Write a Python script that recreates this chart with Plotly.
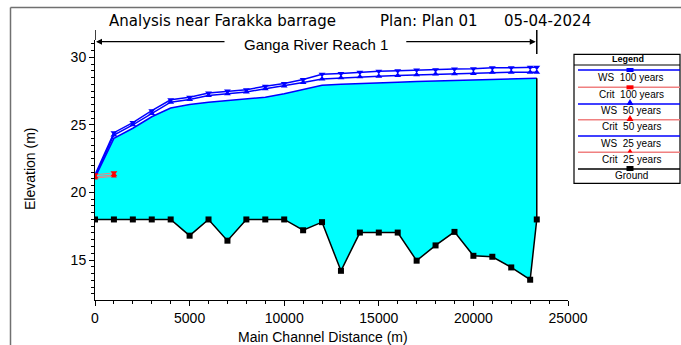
import plotly.graph_objects as go

# ---------------- data ----------------
stations = [0, 1000, 2000, 3000, 4000, 5000, 6000, 7000, 8000, 9000, 10000,
            11000, 12000, 13000, 14000, 15000, 16000, 17000, 18000, 19000,
            20000, 21000, 22000, 23000, 23350]
ground = [18.0, 18.0, 18.0, 18.0, 18.0, 16.8, 18.0, 16.43, 18.0, 18.0, 18.0,
          17.2, 17.8, 14.2, 17.03, 17.03, 17.03, 14.95, 16.08, 17.08,
          15.31, 15.24, 14.45, 13.54, 18.0]
ws_100 = [21.3, 24.42, 25.17, 26.05, 26.86, 27.05, 27.35, 27.5, 27.6, 27.86, 28.06,
          28.36, 28.74, 28.8, 28.9, 28.96, 29.0, 29.06, 29.08, 29.13,
          29.16, 29.23, 29.23, 29.26, 29.26]
ws_50 = [21.2, 24.25, 25.0, 25.85, 26.68, 26.88, 27.18, 27.3, 27.43, 27.68, 27.88,
         28.13, 28.4, 28.48, 28.56, 28.6, 28.66, 28.7, 28.76, 28.78,
         28.81, 28.89, 28.89, 28.9, 28.9]
ws_25 = [21.1, 24.0, 24.75, 25.6, 26.25, 26.5, 26.68, 26.8, 26.9, 27.05, 27.3,
         27.6, 27.93, 28.0, 28.07, 28.12, 28.16, 28.2, 28.24, 28.28,
         28.32, 28.36, 28.4, 28.45, 28.45]
crit_stations = [0, 1000]
crit_100 = [21.3, 21.45]
crit_50 = [21.15, 21.3]
crit_25 = [21.05, 21.2]

x_ticks = [0, 5000, 10000, 15000, 20000, 25000]
y_ticks = [15, 20, 25, 30]

title_parts = ["Analysis near Farakka barrage", "Plan: Plan 01", "05-04-2024"]
reach_name = "Ganga River Reach 1"
legend_labels = ["WS  100 years", "Crit  100 years", "WS  50 years", "Crit  50 years",
                 "WS  25 years", "Crit  25 years", "Ground"]

# ---------------- layout helpers (pixel -> paper) ----------------
W, H = 681, 345
L, R, T, B = 95, 568, 40, 300
def px(x): return (x - L) / (R - L)
def py(y): return (B - y) / (B - T)

FONT = "Arial, Liberation Sans, sans-serif"
TFONT = "DejaVu Sans, Arial, sans-serif"
BLUE = "#0000ff"
RED = "#ff0000"
CRITLINE = "#f08080"

fig = go.Figure()

# fill between ground and lowest water surface
fig.add_trace(go.Scatter(x=stations, y=ground, mode="lines", line=dict(width=0),
                         hoverinfo="skip", showlegend=False))
fig.add_trace(go.Scatter(x=stations, y=ws_25, mode="lines", line=dict(width=0),
                         fill="tonexty", fillcolor="#00ffff", hoverinfo="skip",
                         showlegend=False))

# water surfaces
fig.add_trace(go.Scatter(x=stations, y=ws_25, mode="lines",
                         line=dict(color=BLUE, width=1.5), name="WS 25 years"))
fig.add_trace(go.Scatter(x=stations, y=ws_50, mode="lines+markers",
                         line=dict(color=BLUE, width=1.5),
                         marker=dict(symbol="triangle-up", size=6, color=BLUE),
                         name="WS 50 years"))
fig.add_trace(go.Scatter(x=stations, y=ws_100, mode="lines+markers",
                         line=dict(color=BLUE, width=1.5),
                         marker=dict(symbol="triangle-down", size=6, color=BLUE),
                         name="WS 100 years"))

# critical depths
fig.add_trace(go.Scatter(x=crit_stations, y=crit_25, mode="lines+markers",
                         line=dict(color=CRITLINE, width=1),
                         marker=dict(symbol="triangle-up", size=5, color=RED),
                         name="Crit 25 years"))
fig.add_trace(go.Scatter(x=crit_stations, y=crit_50, mode="lines+markers",
                         line=dict(color=CRITLINE, width=1),
                         marker=dict(symbol="triangle-up", size=6, color=RED),
                         name="Crit 50 years"))
fig.add_trace(go.Scatter(x=crit_stations, y=crit_100, mode="lines+markers",
                         line=dict(color=CRITLINE, width=1),
                         marker=dict(symbol="triangle-down", size=6, color=RED),
                         name="Crit 100 years"))

# ground
fig.add_trace(go.Scatter(x=[stations[-1], stations[-1]], y=[ground[-1], ws_25[-1]],
                         mode="lines", line=dict(color="black", width=1.5),
                         hoverinfo="skip", showlegend=False))
fig.add_trace(go.Scatter(x=stations, y=ground, mode="lines+markers",
                         line=dict(color="black", width=1.5),
                         marker=dict(symbol="square", size=6, color="black"),
                         name="Ground"))

shapes = []
annotations = []

# outer frame (left & top)
shapes.append(dict(type="line", xref="paper", yref="paper", x0=px(10.5), x1=px(10.5),
                   y0=py(7.5), y1=py(346), line=dict(color="#707070", width=1.5)))
shapes.append(dict(type="line", xref="paper", yref="paper", x0=px(10.5), x1=px(682),
                   y0=py(7.5), y1=py(7.5), line=dict(color="#707070", width=1.5)))

# title
for txt, x0 in zip(title_parts, [107, 378, 502]):
    annotations.append(dict(text=txt, x=px(x0), y=py(20.5), xref="paper", yref="paper",
                            xanchor="left", yanchor="middle", showarrow=False,
                            font=dict(family=TFONT, size=15, color="black")))

# reach annotation
shapes.append(dict(type="line", xref="x", yref="paper", x0=stations[0], x1=stations[0],
                   y0=py(40), y1=py(30), line=dict(color="black", width=1.5)))
shapes.append(dict(type="line", xref="x", yref="paper", x0=stations[-1], x1=stations[-1],
                   y0=py(54), y1=py(30), line=dict(color="black", width=1.5)))
annotations.append(dict(text=reach_name, x=px(315.5), y=py(44.5), xref="paper", yref="paper",
                        xanchor="center", yanchor="middle", showarrow=False,
                        font=dict(family=FONT, size=15, color="black")))
annotations.append(dict(text="", x=stations[0], y=py(41.7), xref="x", yref="paper",
                        ax=131, ay=0, axref="pixel", ayref="pixel", showarrow=True,
                        arrowhead=2, arrowsize=1, arrowwidth=1.2, arrowcolor="black",
                        standoff=1))
annotations.append(dict(text="", x=stations[-1], y=py(41.7), xref="x", yref="paper",
                        ax=-132, ay=0, axref="pixel", ayref="pixel", showarrow=True,
                        arrowhead=2, arrowsize=1, arrowwidth=1.2, arrowcolor="black",
                        standoff=1))

# axis titles
annotations.append(dict(text="Main Channel Distance (m)", x=px(323), y=py(337),
                        xref="paper", yref="paper", xanchor="center", yanchor="middle",
                        showarrow=False, font=dict(family=FONT, size=14, color="black")))
annotations.append(dict(text="Elevation (m)", x=px(30), y=py(169), textangle=-90,
                        xref="paper", yref="paper", xanchor="center", yanchor="middle",
                        showarrow=False, font=dict(family=FONT, size=14, color="black")))

# custom legend box
LX0, LX1, LY0, LY1 = 574, 680, 54.3, 183.3
shapes.append(dict(type="rect", xref="paper", yref="paper", x0=px(LX0), x1=px(LX1),
                   y0=py(LY1), y1=py(LY0), line=dict(color="black", width=1.2),
                   fillcolor="white", layer="above"))
shapes.append(dict(type="line", xref="paper", yref="paper", x0=px(LX0), x1=px(LX1),
                   y0=py(65), y1=py(65), line=dict(color="black", width=1)))
annotations.append(dict(text="<b>Legend</b>", x=px(628), y=py(59), xref="paper", yref="paper",
                        xanchor="center", yanchor="middle", showarrow=False,
                        font=dict(family=FONT, size=9, color="black")))
line_y = [70, 87.3, 104, 119.7, 136, 152.3, 169]
text_y = [77.5, 94.3, 110.5, 126.5, 143.3, 159.3, 175.5]
line_cols = [BLUE, CRITLINE, BLUE, CRITLINE, BLUE, CRITLINE, "black"]
MX = 630
for ly, ty, col, lab in zip(line_y, text_y, line_cols, legend_labels):
    shapes.append(dict(type="line", xref="paper", yref="paper", x0=px(578), x1=px(LX1),
                       y0=py(ly), y1=py(ly), line=dict(color=col, width=1.5), layer="above"))
    annotations.append(dict(text=lab, x=px(631), y=py(ty), xref="paper", yref="paper",
                            xanchor="center", yanchor="middle", showarrow=False,
                            font=dict(family=FONT, size=10, color="black")))

def rect(cx, cy, w, h, col):
    return dict(type="rect", xref="paper", yref="paper", x0=px(cx - w / 2), x1=px(cx + w / 2),
                y0=py(cy + h / 2), y1=py(cy - h / 2), fillcolor=col,
                line=dict(color=col, width=0), layer="above")

def tri(cx, base_y, w, h, col):
    p = "M {} {} L {} {} L {} {} Z".format(px(cx - w / 2), py(base_y), px(cx + w / 2), py(base_y),
                                           px(cx), py(base_y - h))
    return dict(type="path", xref="paper", yref="paper", path=p, fillcolor=col,
                line=dict(color=col, width=0), layer="above")

shapes.append(rect(MX, 70, 7, 4, BLUE))
shapes.append(rect(MX, 87.3, 7, 4, RED))
shapes.append(tri(MX, 105, 7, 6, BLUE))
shapes.append(tri(MX, 121, 7, 6, RED))
shapes.append(tri(MX, 152.5, 5, 4, RED))
shapes.append(rect(MX, 168.5, 7, 5, "black"))

fig.update_layout(
    width=W, height=H,
    margin=dict(l=L, r=W - R, t=T, b=H - B, pad=0),
    paper_bgcolor="white", plot_bgcolor="white",
    showlegend=False,
    font=dict(family=FONT, size=14, color="black"),
    shapes=shapes, annotations=annotations,
    xaxis=dict(range=[0, 25000], tickvals=x_ticks, ticktext=[str(v) for v in x_ticks],
               showgrid=False, zeroline=False, showline=True, linecolor="black",
               linewidth=1, ticks="outside", ticklen=5, tickcolor="black",
               minor=dict(dtick=1000, ticks="outside", ticklen=3, tickcolor="black",
                          showgrid=False),
               tickfont=dict(family=FONT, size=14, color="black")),
    yaxis=dict(range=[12.04, 31.28], tickvals=y_ticks, ticktext=[str(v) for v in y_ticks],
               showgrid=False, zeroline=False, showline=True, linecolor="black",
               linewidth=1, ticks="outside", ticklen=5, tickcolor="black",
               minor=dict(dtick=0.5, ticks="outside", ticklen=3, tickcolor="black",
                          showgrid=False),
               tickfont=dict(family=FONT, size=14, color="black")),
)

fig.write_html("out.html")
